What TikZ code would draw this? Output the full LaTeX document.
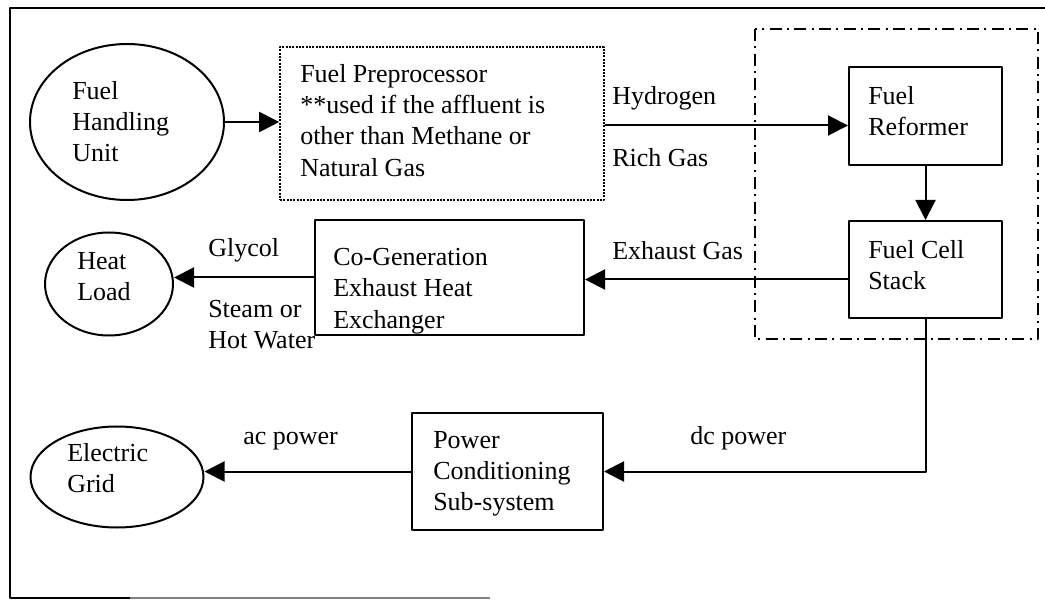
\documentclass[tikz,border=0pt]{standalone}
\usepackage{fontspec}
\setmainfont{Liberation Serif}
\usetikzlibrary{shapes.geometric,arrows.meta}
\begin{document}
\begin{tikzpicture}[x=0.75pt,y=-0.75pt,line join=round,>={Triangle[length=15pt,width=15pt]},
	every node/.style={font=\fontsize{19.5}{23.5}\selectfont},
	blk/.style={draw,line width=1.5pt,inner sep=0pt},
	oval/.style={draw,ellipse,line width=1.5pt,inner sep=0pt},
	txt/.style={inner sep=0pt,align=left},
	flow/.style={->,line width=1.5pt}]
	\useasboundingbox (0,0) rectangle (1045,605);
	% page frame (right side cut off)
	\draw[line width=1.8pt] (1045,8) -- (10,8) -- (10,598) -- (130,598);
	\draw[line width=1.2pt,gray] (130,598) -- (490,598);
	% fuel processing group
	\draw[line width=1.3pt,dash pattern=on 9pt off 4pt on 1.5pt off 4pt] (755,29) rectangle (1038,339);
	% shapes
	\node[oval,minimum width=145.5pt,minimum height=117pt] (fhu) at (127,122) {};
	\node[blk,densely dotted,line width=1.2pt,minimum width=243pt,minimum height=114.75pt] (prep) at (442,123.5) {};
	\node[blk,minimum width=114.75pt,minimum height=73.5pt] (reform) at (925.5,116) {};
	\node[blk,minimum width=114.75pt,minimum height=72.75pt] (stack) at (925.5,269.5) {};
	\node[blk,minimum width=201.75pt,minimum height=86.25pt] (cogen) at (449.5,277.5) {};
	\node[oval,minimum width=96pt,minimum height=77.25pt] (heat) at (109,284) {};
	\node[blk,minimum width=143.25pt,minimum height=87.75pt] (pcs) at (507.5,471.5) {};
	\node[oval,minimum width=129.75pt,minimum height=75.75pt] (grid) at (117,477) {};
	% texts
	\node[txt,anchor=north west] (fhutxt) at (72,81) {Fuel\\Handling\\Unit};
	\node[txt,anchor=north west] (preptxt) at (300,64) {Fuel Preprocessor\\**used if the affluent is\\other than Methane or\\Natural Gas};
	\node[txt,anchor=north west] (reformtxt) at (868,86) {Fuel\\Reformer};
	\node[txt,anchor=north west] (stacktxt) at (868,240) {Fuel Cell\\Stack};
	\node[txt,anchor=north west] (cogentxt) at (333,248) {Co-Generation\\Exhaust Heat\\Exchanger};
	\node[txt,anchor=north west] (heattxt) at (77,252) {Heat\\Load};
	\node[txt,anchor=north west] (pcstxt) at (433,431) {Power\\Conditioning\\Sub-system};
	\node[txt,anchor=north west] (gridtxt) at (67,443) {Electric\\Grid};
	% connector labels
	\node[txt,anchor=base west] (hyd) at (612,105) {Hydrogen};
	\node[txt,anchor=base west] (rich) at (612,167) {Rich Gas};
	\node[txt,anchor=base west] (exh) at (612,260) {Exhaust Gas};
	\node[txt,anchor=base west] (gly) at (208,257) {Glycol};
	\node[txt,anchor=north west] (steam) at (208,300) {Steam or\\Hot Water};
	\node[txt,anchor=base west] (ac) at (243,445) {ac power};
	\node[txt,anchor=base west] (dc) at (690,445) {dc power};
	% connectors
	\draw[flow] (fhu.east) -- (fhu.east -| prep.west);
	\draw[flow] ([yshift=-1.5]prep.east) -- ([yshift=-1.5]prep.east -| reform.west);
	\draw[flow] (reform.south) -- (stack.north);
	\draw[flow] ([yshift=-1.5]cogen.east -| stack.west) -- ([yshift=-1.5]cogen.east);
	\draw[flow] (cogen.west) -- (cogen.west -| heat.east);
	\draw[flow] (stack.south) |- (pcs.east);
	\draw[flow] (pcs.west) -- (pcs.west -| grid.east);
\end{tikzpicture}
\end{document}
